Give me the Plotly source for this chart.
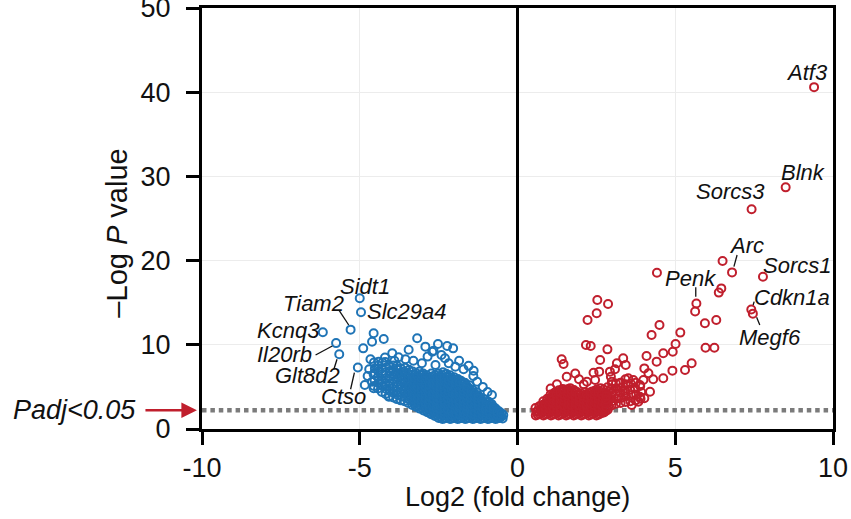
import plotly.graph_objects as go

FONT = "Liberation Sans, Arial, Helvetica, sans-serif"
BLUE = "#1f74b6"
RED = "#c01f2d"
DOT_GRAY = "#7b7b7b"

# -log10 P corresponding to Padj < 0.05
THRESHOLD = 2.22

# ---- down-regulated genes (log2 fold change, -log10 P) ----
down_fc = [
    -4.55, -4.53, -4.56, -4.52, -4.55,
    -4.42, -4.40, -4.43, -4.41, -4.42,
    -4.30, -4.28, -4.31, -4.29, -4.30, -4.28,
    -4.18, -4.16, -4.19, -4.17, -4.18, -4.16, -4.19,
    -4.06, -4.04, -4.07, -4.05, -4.06, -4.04, -4.07,
    -3.94, -3.92, -3.95, -3.93, -3.94, -3.92, -3.95, -3.93,
    -3.82, -3.80, -3.83, -3.81, -3.82, -3.80, -3.83, -3.81, -3.82,
    -3.70, -3.68, -3.71, -3.69, -3.70, -3.68, -3.71, -3.69, -3.70,
    -3.58, -3.56, -3.59, -3.57, -3.58, -3.56, -3.59, -3.57, -3.58, -3.56,
    -3.46, -3.44, -3.47, -3.45, -3.46, -3.44, -3.47, -3.45, -3.46, -3.44,
    -3.34, -3.32, -3.35, -3.33, -3.34, -3.32, -3.35, -3.33, -3.34, -3.32,
    -3.22, -3.20, -3.23, -3.21, -3.22, -3.20, -3.23, -3.21, -3.22, -3.20,
    -3.10, -3.08, -3.11, -3.09, -3.10, -3.08, -3.11, -3.09, -3.10, -3.08, -3.11,
    -2.98, -2.96, -2.99, -2.97, -2.98, -2.96, -2.99, -2.97, -2.98, -2.96, -2.99,
    -2.86, -2.84, -2.87, -2.85, -2.86, -2.84, -2.87, -2.85, -2.86, -2.84, -2.87,
    -2.74, -2.72, -2.75, -2.73, -2.74, -2.72, -2.75, -2.73, -2.74, -2.72, -2.75, -2.73,
    -2.62, -2.60, -2.63, -2.61, -2.62, -2.60, -2.63, -2.61, -2.62, -2.60, -2.63, -2.61,
    -2.50, -2.48, -2.51, -2.49, -2.50, -2.48, -2.51, -2.49, -2.50, -2.48, -2.51, -2.49, -2.50,
    -2.38, -2.36, -2.39, -2.37, -2.38, -2.36, -2.39, -2.37, -2.38, -2.36, -2.39, -2.37, -2.38, -2.36,
    -2.26, -2.24, -2.27, -2.25, -2.26, -2.24, -2.27, -2.25, -2.26, -2.24, -2.27, -2.25, -2.26,
    -2.14, -2.12, -2.15, -2.13, -2.14, -2.12, -2.15, -2.13, -2.14, -2.12, -2.15, -2.13, -2.14,
    -2.02, -2.00, -2.03, -2.01, -2.02, -2.00, -2.03, -2.01, -2.02, -2.00, -2.03, -2.01,
    -1.90, -1.88, -1.91, -1.89, -1.90, -1.88, -1.91, -1.89, -1.90, -1.88, -1.91, -1.89,
    -1.78, -1.76, -1.79, -1.77, -1.78, -1.76, -1.79, -1.77, -1.78, -1.76, -1.79,
    -1.66, -1.64, -1.67, -1.65, -1.66, -1.64, -1.67, -1.65, -1.66, -1.64, -1.67,
    -1.54, -1.52, -1.55, -1.53, -1.54, -1.52, -1.55, -1.53, -1.54, -1.52,
    -1.42, -1.40, -1.43, -1.41, -1.42, -1.40, -1.43, -1.41, -1.42,
    -1.30, -1.28, -1.31, -1.29, -1.30, -1.28, -1.31, -1.29,
    -1.18, -1.16, -1.19, -1.17, -1.18, -1.16, -1.19,
    -1.06, -1.04, -1.07, -1.05, -1.06, -1.04,
    -0.94, -0.92, -0.95, -0.93, -0.94, -0.92,
    -0.82, -0.80, -0.83, -0.81, -0.82,
    -0.70, -0.68, -0.71, -0.69,
    -0.58, -0.56, -0.59,
    -0.47, -0.45,
    -4.56, -4.24, -4.61, -4.89, -3.18, -2.92, -3.45, -2.52, -2.23, -2.04,
    -2.41, -2.70, -3.97, -4.66, -4.84, -4.56, -4.08, -1.39, -1.71, -1.28,
    -2.18, -3.03, -3.55, -3.77, -4.40, -4.55, -4.61, -1.66, -1.97, -0.81,
    -0.71, -0.60, -2.66, -2.85, -2.30, -1.85, -1.55, -3.30, -3.90, -4.20,
    -2.60, -1.40, -1.10, -0.95, -4.75, -4.70,
]
down_nlogp = [
    5.10, 5.80, 6.50, 7.20, 7.90,
    4.80, 5.45, 6.15, 6.85, 7.55,
    4.40, 5.10, 5.80, 6.50, 7.20, 7.90,
    4.15, 4.75, 5.40, 6.05, 6.70, 7.30, 7.95,
    3.90, 4.50, 5.10, 5.70, 6.30, 6.90, 7.50,
    3.75, 4.25, 4.80, 5.35, 5.90, 6.45, 7.00, 7.55,
    3.55, 4.05, 4.55, 5.05, 5.55, 6.05, 6.55, 7.05, 7.50,
    3.40, 3.85, 4.35, 4.80, 5.30, 5.75, 6.25, 6.70, 7.20,
    3.30, 3.74, 4.18, 4.62, 5.06, 5.50, 5.94, 6.38, 6.82, 7.26,
    3.08, 3.52, 3.96, 4.40, 4.84, 5.28, 5.72, 6.16, 6.60, 7.04,
    2.86, 3.30, 3.74, 4.18, 4.62, 5.06, 5.50, 5.94, 6.38, 6.82,
    2.64, 3.08, 3.52, 3.96, 4.40, 4.84, 5.28, 5.72, 6.16, 6.60,
    2.42, 2.86, 3.30, 3.74, 4.18, 4.62, 5.06, 5.50, 5.94, 6.38, 6.82,
    2.20, 2.64, 3.08, 3.52, 3.96, 4.40, 4.84, 5.28, 5.72, 6.16, 6.60,
    1.98, 2.42, 2.86, 3.30, 3.74, 4.18, 4.62, 5.06, 5.50, 5.94, 6.38,
    1.76, 2.20, 2.64, 3.08, 3.52, 3.96, 4.40, 4.84, 5.28, 5.72, 6.16, 6.60,
    1.54, 1.98, 2.42, 2.86, 3.30, 3.74, 4.18, 4.62, 5.06, 5.50, 5.94, 6.38,
    1.32, 1.76, 2.20, 2.64, 3.08, 3.52, 3.96, 4.40, 4.84, 5.28, 5.72, 6.16, 6.60,
    1.20, 1.54, 1.98, 2.42, 2.86, 3.30, 3.74, 4.18, 4.62, 5.06, 5.50, 5.94, 6.38, 6.75,
    1.32, 1.76, 2.20, 2.64, 3.08, 3.52, 3.96, 4.40, 4.84, 5.28, 5.72, 6.16, 6.55,
    1.20, 1.54, 1.98, 2.42, 2.86, 3.30, 3.74, 4.18, 4.62, 5.06, 5.50, 5.94, 6.38,
    1.32, 1.76, 2.20, 2.64, 3.08, 3.52, 3.96, 4.40, 4.84, 5.28, 5.72, 6.16,
    1.20, 1.54, 1.98, 2.42, 2.86, 3.30, 3.74, 4.18, 4.62, 5.06, 5.50, 5.94,
    1.32, 1.76, 2.20, 2.64, 3.08, 3.52, 3.96, 4.40, 4.84, 5.28, 5.72,
    1.20, 1.54, 1.98, 2.42, 2.86, 3.30, 3.74, 4.18, 4.62, 5.06, 5.50,
    1.32, 1.76, 2.20, 2.64, 3.08, 3.52, 3.96, 4.40, 4.84, 5.20,
    1.20, 1.54, 1.98, 2.42, 2.86, 3.30, 3.74, 4.18, 4.62,
    1.32, 1.76, 2.20, 2.64, 3.08, 3.52, 3.96, 4.35,
    1.20, 1.54, 1.98, 2.42, 2.86, 3.30, 3.74,
    1.32, 1.76, 2.20, 2.64, 3.08, 3.50,
    1.20, 1.54, 1.98, 2.42, 2.86, 3.25,
    1.32, 1.76, 2.20, 2.64, 2.95,
    1.20, 1.54, 1.98, 2.40,
    1.32, 1.76, 2.10,
    1.25, 1.65,
    11.37, 10.69, 10.37, 9.58, 10.77, 9.78, 9.42, 10.10, 9.86, 9.58,
    8.79, 9.18, 8.99, 8.28, 5.23, 4.83, 3.84, 6.92, 7.09, 5.62,
    7.80, 7.80, 8.28, 8.52, 8.00, 6.60, 5.62, 5.43, 7.40, 4.04,
    2.46, 1.46, 9.30, 8.60, 8.40, 8.10, 7.50, 8.10, 8.10, 8.50,
    7.60, 6.30, 5.00, 4.40, 6.30, 7.10,
]
# the most crowded part of the down-regulated cloud
down_dense_fc = [
    -3.28, -3.27, -3.29, -3.28, -3.27, -3.29, -3.28, -3.27,
    -3.16, -3.15, -3.17, -3.16, -3.15, -3.17, -3.16, -3.15, -3.17,
    -3.04, -3.03, -3.05, -3.04, -3.03, -3.05, -3.04, -3.03, -3.05, -3.04,
    -2.92, -2.91, -2.93, -2.92, -2.91, -2.93, -2.92, -2.91, -2.93, -2.92,
    -2.80, -2.79, -2.81, -2.80, -2.79, -2.81, -2.80, -2.79, -2.81, -2.80,
    -2.68, -2.67, -2.69, -2.68, -2.67, -2.69, -2.68, -2.67, -2.69, -2.68, -2.67,
    -2.56, -2.55, -2.57, -2.56, -2.55, -2.57, -2.56, -2.55, -2.57, -2.56, -2.55,
    -2.44, -2.43, -2.45, -2.44, -2.43, -2.45, -2.44, -2.43, -2.45, -2.44, -2.43, -2.45,
    -2.32, -2.31, -2.33, -2.32, -2.31, -2.33, -2.32, -2.31, -2.33, -2.32, -2.31, -2.33,
    -2.20, -2.19, -2.21, -2.20, -2.19, -2.21, -2.20, -2.19, -2.21, -2.20, -2.19, -2.21,
    -2.08, -2.07, -2.09, -2.08, -2.07, -2.09, -2.08, -2.07, -2.09, -2.08, -2.07, -2.09,
    -1.96, -1.95, -1.97, -1.96, -1.95, -1.97, -1.96, -1.95, -1.97, -1.96, -1.95,
    -1.84, -1.83, -1.85, -1.84, -1.83, -1.85, -1.84, -1.83, -1.85, -1.84, -1.83,
    -1.72, -1.71, -1.73, -1.72, -1.71, -1.73, -1.72, -1.71, -1.73, -1.72,
    -1.60, -1.59, -1.61, -1.60, -1.59, -1.61, -1.60, -1.59, -1.61, -1.60,
    -1.48, -1.47, -1.49, -1.48, -1.47, -1.49, -1.48, -1.47,
    -1.36, -1.35, -1.37, -1.36, -1.35, -1.37, -1.36, -1.35,
    -1.24, -1.23, -1.25, -1.24, -1.23, -1.25, -1.24,
    -1.12, -1.11, -1.13, -1.12, -1.11, -1.13,
    -1.00, -0.99, -1.01, -1.00, -0.99,
    -0.88, -0.87, -0.89, -0.88, -0.87,
    -0.76, -0.75, -0.77, -0.76,
    -0.64, -0.63, -0.65,
    -0.52, -0.51,
]
down_dense_nlogp = [
    2.97, 3.41, 3.85, 4.29, 4.73, 5.17, 5.61, 6.05,
    2.75, 3.19, 3.63, 4.07, 4.51, 4.95, 5.39, 5.83, 6.27,
    2.53, 2.97, 3.41, 3.85, 4.29, 4.73, 5.17, 5.61, 6.05, 6.49,
    2.31, 2.75, 3.19, 3.63, 4.07, 4.51, 4.95, 5.39, 5.83, 6.27,
    2.09, 2.53, 2.97, 3.41, 3.85, 4.29, 4.73, 5.17, 5.61, 6.05,
    1.87, 2.31, 2.75, 3.19, 3.63, 4.07, 4.51, 4.95, 5.39, 5.83, 6.27,
    1.65, 2.09, 2.53, 2.97, 3.41, 3.85, 4.29, 4.73, 5.17, 5.61, 6.05,
    1.43, 1.87, 2.31, 2.75, 3.19, 3.63, 4.07, 4.51, 4.95, 5.39, 5.83, 6.27,
    1.25, 1.65, 2.09, 2.53, 2.97, 3.41, 3.85, 4.29, 4.73, 5.17, 5.61, 6.05,
    1.43, 1.87, 2.31, 2.75, 3.19, 3.63, 4.07, 4.51, 4.95, 5.39, 5.83, 6.27,
    1.25, 1.65, 2.09, 2.53, 2.97, 3.41, 3.85, 4.29, 4.73, 5.17, 5.61, 6.05,
    1.43, 1.87, 2.31, 2.75, 3.19, 3.63, 4.07, 4.51, 4.95, 5.39, 5.83,
    1.25, 1.65, 2.09, 2.53, 2.97, 3.41, 3.85, 4.29, 4.73, 5.17, 5.55,
    1.43, 1.87, 2.31, 2.75, 3.19, 3.63, 4.07, 4.51, 4.95, 5.39,
    1.25, 1.65, 2.09, 2.53, 2.97, 3.41, 3.85, 4.29, 4.73, 5.10,
    1.43, 1.87, 2.31, 2.75, 3.19, 3.63, 4.07, 4.51,
    1.25, 1.65, 2.09, 2.53, 2.97, 3.41, 3.85, 4.20,
    1.43, 1.87, 2.31, 2.75, 3.19, 3.63, 3.95,
    1.25, 1.65, 2.09, 2.53, 2.97, 3.41,
    1.43, 1.87, 2.31, 2.75, 3.19,
    1.25, 1.65, 2.09, 2.53, 2.90,
    1.43, 1.87, 2.31, 2.60,
    1.25, 1.65, 2.09,
    1.43, 1.87,
]

# ---- up-regulated genes ----
up_fc = [
    0.58, 0.60, 0.57,
    0.70, 0.72, 0.69,
    0.82, 0.84, 0.81, 0.83, 0.82,
    0.94, 0.96, 0.93, 0.95, 0.94,
    1.06, 1.08, 1.05, 1.07, 1.06, 1.08, 1.05,
    1.18, 1.20, 1.17, 1.19, 1.18, 1.20, 1.17,
    1.30, 1.32, 1.29, 1.31, 1.30, 1.32, 1.29, 1.31,
    1.42, 1.44, 1.41, 1.43, 1.42, 1.44, 1.41, 1.43,
    1.54, 1.56, 1.53, 1.55, 1.54, 1.56, 1.53, 1.55,
    1.66, 1.68, 1.65, 1.67, 1.66, 1.68, 1.65, 1.67,
    1.78, 1.80, 1.77, 1.79, 1.78, 1.80, 1.77, 1.79,
    1.90, 1.92, 1.89, 1.91, 1.90, 1.92, 1.89,
    2.02, 2.04, 2.01, 2.03, 2.02, 2.04, 2.01,
    2.14, 2.16, 2.13, 2.15, 2.14, 2.16, 2.13,
    2.26, 2.28, 2.25, 2.27, 2.26, 2.28, 2.25,
    2.38, 2.40, 2.37, 2.39, 2.38, 2.40, 2.37,
    2.50, 2.52, 2.49, 2.51, 2.50, 2.52, 2.49, 2.51,
    2.62, 2.64, 2.61, 2.63, 2.62, 2.64, 2.61, 2.63,
    2.74, 2.76, 2.73, 2.75, 2.74, 2.76, 2.73,
    2.86, 2.88, 2.85, 2.87, 2.86, 2.88, 2.85,
    2.98, 3.00, 2.97, 2.99, 2.98, 3.00,
    3.12, 3.14, 3.11, 3.13, 3.12,
    3.27, 3.29, 3.26, 3.28, 3.27,
    3.42, 3.44, 3.41, 3.43, 3.42,
    3.58, 3.60, 3.57, 3.59,
    3.74, 3.76, 3.73, 3.75,
    3.90, 3.92, 3.89,
    1.40, 1.46, 2.17, 2.32, 2.85, 2.62, 3.15, 3.35, 3.43, 3.09,
    2.59, 2.41, 2.93, 4.02, 4.09, 4.41, 4.62, 4.92, 5.01, 4.25,
    4.50, 5.16, 4.91, 5.31, 5.52, 4.62, 4.30, 4.20, 3.88, 3.67,
    4.02, 3.83, 3.62, 2.99, 3.25, 3.51, 3.72, 3.41, 3.15, 3.99,
    4.15, 3.88, 2.46, 2.20, 2.96, 1.56, 1.83, 1.25, 1.05, 2.10,
    1.95, 5.96, 6.24, 5.94, 6.30, 2.53, 2.87, 2.51, 2.22, 4.42,
    6.50, 6.38, 6.46, 5.63,
]
up_nlogp = [
    1.60, 2.04, 2.48,
    1.82, 2.26, 2.70,
    1.60, 2.04, 2.48, 2.92, 3.30,
    1.82, 2.26, 2.70, 3.14, 3.58,
    1.60, 2.04, 2.48, 2.92, 3.36, 3.80, 4.10,
    1.82, 2.26, 2.70, 3.14, 3.58, 4.02, 4.30,
    1.60, 2.04, 2.48, 2.92, 3.36, 3.80, 4.24, 4.60,
    1.82, 2.26, 2.70, 3.14, 3.58, 4.02, 4.46, 4.75,
    1.60, 2.04, 2.48, 2.92, 3.36, 3.80, 4.24, 4.68,
    1.82, 2.26, 2.70, 3.14, 3.58, 4.02, 4.46, 4.85,
    1.60, 2.04, 2.48, 2.92, 3.36, 3.80, 4.24, 4.62,
    1.82, 2.26, 2.70, 3.14, 3.58, 4.02, 4.40,
    1.60, 2.04, 2.48, 2.92, 3.36, 3.80, 4.22,
    1.82, 2.26, 2.70, 3.14, 3.58, 4.02, 4.35,
    1.60, 2.04, 2.48, 2.92, 3.36, 3.80, 4.24,
    1.82, 2.26, 2.70, 3.14, 3.58, 4.02, 4.46,
    1.60, 2.04, 2.48, 2.92, 3.36, 3.80, 4.24, 4.68,
    1.82, 2.26, 2.70, 3.14, 3.58, 4.02, 4.46, 4.85,
    1.95, 2.48, 2.92, 3.36, 3.80, 4.24, 4.68,
    2.30, 2.70, 3.14, 3.58, 4.02, 4.46, 4.95,
    2.80, 3.30, 3.80, 4.30, 4.80, 5.30,
    3.00, 3.60, 4.20, 4.80, 5.40,
    3.10, 3.70, 4.30, 4.90, 5.50,
    3.20, 3.90, 4.60, 5.30, 5.90,
    3.30, 4.00, 4.70, 5.40,
    3.40, 4.10, 4.80, 5.50,
    3.60, 4.40, 5.10,
    8.28, 7.72, 9.98, 9.86, 9.46, 8.19, 7.80, 8.39, 7.60, 7.09,
    6.81, 6.69, 6.81, 7.20, 8.67, 8.00, 9.00, 9.18, 10.10, 11.16,
    12.35, 11.45, 6.93, 7.00, 7.80, 6.02, 5.90, 4.43, 5.23, 5.82,
    3.65, 3.24, 2.85, 5.62, 5.43, 6.02, 4.83, 4.24, 3.65, 5.82,
    6.61, 3.84, 5.82, 5.62, 6.20, 6.20, 6.60, 5.30, 4.80, 5.30,
    5.90, 9.64, 9.64, 12.55, 12.95, 15.32, 14.85, 13.74, 12.95, 18.55,
    19.95, 16.20, 16.70, 13.95,
]
# the most crowded part of the up-regulated cloud
up_dense_fc = [
    0.64, 0.65,
    0.76, 0.77, 0.75,
    0.88, 0.89, 0.87, 0.88,
    1.00, 1.01, 0.99, 1.00, 1.01,
    1.12, 1.13, 1.11, 1.12, 1.13, 1.11,
    1.24, 1.25, 1.23, 1.24, 1.25, 1.23,
    1.36, 1.37, 1.35, 1.36, 1.37, 1.35, 1.36,
    1.48, 1.49, 1.47, 1.48, 1.49, 1.47, 1.48,
    1.60, 1.61, 1.59, 1.60, 1.61, 1.59, 1.60, 1.61,
    1.72, 1.73, 1.71, 1.72, 1.73, 1.71, 1.72,
    1.84, 1.85, 1.83, 1.84, 1.85, 1.83, 1.84,
    1.96, 1.97, 1.95, 1.96, 1.97, 1.95,
    2.08, 2.09, 2.07, 2.08, 2.09, 2.07,
    2.20, 2.21, 2.19, 2.20, 2.21, 2.19,
    2.32, 2.33, 2.31, 2.32, 2.33, 2.31, 2.32,
    2.44, 2.45, 2.43, 2.44, 2.45, 2.43, 2.44,
    2.56, 2.57, 2.55, 2.56, 2.57, 2.55, 2.56,
    2.68, 2.69, 2.67, 2.68, 2.69, 2.67,
    2.80, 2.81, 2.79, 2.80, 2.81,
]
up_dense_nlogp = [
    1.71, 2.15,
    1.93, 2.37, 2.75,
    1.71, 2.15, 2.59, 3.03,
    1.93, 2.37, 2.81, 3.25, 3.60,
    1.71, 2.15, 2.59, 3.03, 3.47, 3.91,
    1.93, 2.37, 2.81, 3.25, 3.69, 4.13,
    1.71, 2.15, 2.59, 3.03, 3.47, 3.91, 4.35,
    1.93, 2.37, 2.81, 3.25, 3.69, 4.13, 4.57,
    1.71, 2.15, 2.59, 3.03, 3.47, 3.91, 4.35, 4.70,
    1.93, 2.37, 2.81, 3.25, 3.69, 4.13, 4.57,
    1.71, 2.15, 2.59, 3.03, 3.47, 3.91, 4.35,
    1.93, 2.37, 2.81, 3.25, 3.69, 4.13,
    1.71, 2.15, 2.59, 3.03, 3.47, 3.91,
    1.93, 2.37, 2.81, 3.25, 3.69, 4.13,
    1.71, 2.15, 2.59, 3.03, 3.47, 3.91, 4.35,
    1.93, 2.37, 2.81, 3.25, 3.69, 4.13, 4.50,
    1.71, 2.15, 2.59, 3.03, 3.47, 3.91, 4.35,
    1.93, 2.37, 2.81, 3.25, 3.69, 4.13,
    2.15, 2.59, 3.03, 3.47, 3.91,
]

# ---- named genes ----
down_genes = ["Sidt1", "Slc29a4", "Tiam2", "Kcnq3", "Il20rb", "Glt8d2", "Ctso"]
down_genes_fc = [-5.00, -4.96, -5.29, -6.17, -5.75, -5.65, -5.06]
down_genes_nlogp = [15.52, 13.86, 11.80, 11.50, 10.20, 8.87, 7.30]

up_genes = ["Atf3", "Blnk", "Sorcs3", "Arc", "Sorcs1", "Penk", "Cdkn1a", "Megf6"]
up_genes_fc = [9.40, 8.50, 7.42, 6.80, 7.78, 5.67, 7.41, 7.46]
up_genes_nlogp = [40.6, 28.7, 26.1, 18.6, 18.08, 14.9, 14.2, 13.7]

# label text placement (data coordinates of text centre)
label_pos = {
    "Sidt1": (-4.82, 16.9), "Slc29a4": (-3.49, 13.93), "Tiam2": (-6.46, 14.93),
    "Kcnq3": (-7.27, 11.66), "Il20rb": (-7.37, 8.79), "Glt8d2": (-6.66, 6.32),
    "Ctso": (-5.50, 3.86),
    "Atf3": (9.19, 42.34), "Blnk": (9.05, 30.46), "Sorcs3": (6.75, 28.2),
    "Arc": (7.26, 21.82), "Sorcs1": (8.86, 19.4), "Penk": (5.48, 17.85),
    "Cdkn1a": (8.70, 15.65), "Megf6": (8.0, 10.9),
}
# leader lines from label to point
leaders = [
    ((-5.66, 14.13), (-5.35, 12.35)),
    ((-6.40, 8.79), (-5.87, 9.86)),
    ((-5.82, 7.09), (-5.72, 8.28)),
    ((-5.29, 4.72), (-5.17, 6.69)),
    ((6.96, 20.67), (6.86, 19.28)),
    ((5.65, 16.83), (5.65, 15.71)),
    ((7.50, 15.12), (7.47, 14.73)),
    ((7.58, 13.27), (7.68, 12.35)),
]

fig = go.Figure()

# significance threshold (dotted), drawn beneath the points
fig.add_trace(go.Scatter(
    x=[-10, 10], y=[THRESHOLD, THRESHOLD], mode="lines",
    line=dict(color=DOT_GRAY, width=4.5, dash="4.5px,3.9px"),
    hoverinfo="skip", showlegend=False, cliponaxis=False,
))

marker_common = dict(symbol="circle-open", size=8)
fig.add_trace(go.Scatter(
    x=down_fc + down_dense_fc + down_genes_fc,
    y=down_nlogp + down_dense_nlogp + down_genes_nlogp, mode="markers",
    marker=dict(color=BLUE, line=dict(width=2, color=BLUE), **marker_common),
    showlegend=False,
))
fig.add_trace(go.Scatter(
    x=up_fc + up_dense_fc + up_genes_fc,
    y=up_nlogp + up_dense_nlogp + up_genes_nlogp, mode="markers",
    marker=dict(color=RED, line=dict(width=2, color=RED), **marker_common),
    showlegend=False,
))

annotations = []
for name, (tx, ty) in label_pos.items():
    annotations.append(dict(
        x=tx, y=ty, xref="x", yref="y", text=f"<i>{name}</i>", showarrow=False,
        font=dict(family=FONT, size=22, color="#111111"),
        xanchor="center", yanchor="middle",
    ))

shapes = []
for (x0, y0), (x1, y1) in leaders:
    shapes.append(dict(type="line", xref="x", yref="y", x0=x0, y0=y0, x1=x1, y1=y1,
                       line=dict(color="#111111", width=1.3)))
# vertical reference at zero fold change
shapes.append(dict(type="line", xref="x", yref="paper", x0=0, x1=0, y0=0, y1=1,
                   line=dict(color="black", width=3)))

# threshold arrow and label
annotations.append(dict(
    x=-0.008, y=THRESHOLD, xref="paper", yref="y", ax=-53, ay=0,
    text="", showarrow=True, arrowhead=2, arrowsize=1.2, arrowwidth=2.6,
    arrowcolor=RED,
))
annotations.append(dict(
    x=-0.101, y=THRESHOLD, xref="paper", yref="y", text="<i>Padj<0.05</i>",
    showarrow=False, xanchor="right", yanchor="middle",
    font=dict(family=FONT, size=27, color="#111111"),
))
# axis titles
annotations.append(dict(
    x=0.5, y=-0.162, xref="paper", yref="paper", text="Log2 (fold change)",
    showarrow=False, xanchor="center", yanchor="middle",
    font=dict(family=FONT, size=27, color="#111111"),
))
annotations.append(dict(
    x=-0.135, y=0.466, xref="paper", yref="paper", text="–Log <i>P</i> value",
    showarrow=False, xanchor="center", yanchor="middle", textangle=-90,
    font=dict(family=FONT, size=29, color="#111111"),
))

axis_common = dict(
    showline=True, linecolor="black", linewidth=3, mirror=True,
    ticks="outside", ticklen=13, tickwidth=3, tickcolor="black",
    showgrid=True, gridcolor="#ececec", gridwidth=1, zeroline=False,
    tickfont=dict(family=FONT, size=27, color="#111111"),
    ticklabeloverflow="allow", automargin=False,
)

fig.update_layout(
    width=851, height=519,
    margin=dict(l=202, r=18, t=8, b=90, autoexpand=False),
    paper_bgcolor="white", plot_bgcolor="white",
    xaxis=dict(range=[-10, 10], tickvals=[-10, -5, 0, 5, 10],
               ticktext=["-10", "-5", "0", "5", "10"], **axis_common),
    yaxis=dict(range=[0, 50], tickvals=[0, 10, 20, 30, 40, 50],
               ticklabelstandoff=10, **axis_common),
    annotations=annotations, shapes=shapes,
    font=dict(family=FONT),
)

fig.write_html("out.html")
